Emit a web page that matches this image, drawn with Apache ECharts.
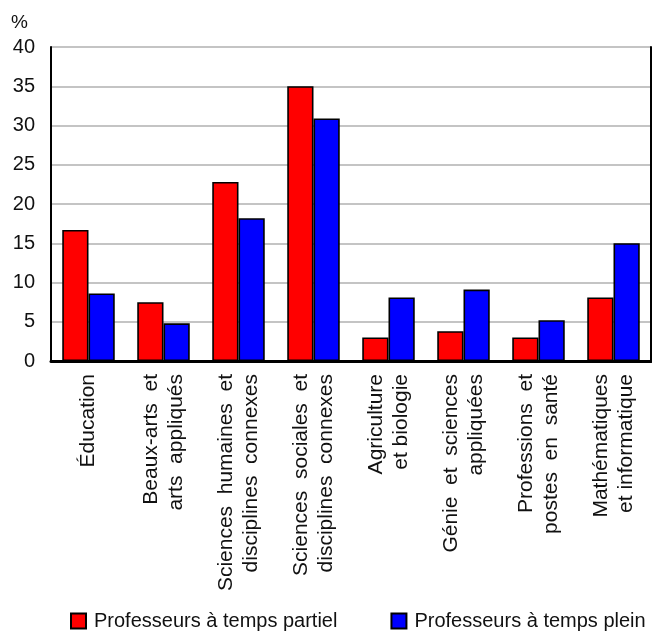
<!DOCTYPE html>
<html>
<head>
<meta charset="utf-8">
<script src="https://cdn.jsdelivr.net/npm/echarts@6/dist/echarts.min.js"></script>
<style>
  html, body { margin: 0; padding: 0; background: #fff; }
  #chart { width: 652px; height: 631px; }
</style>
</head>
<body>
<div id="chart"></div>
<script>
// Fields of study (two-line labels, wide word spacing)
var categories = [
  'Éducation',
  'Beaux-arts  et\narts  appliqués',
  'Sciences  humaines  et\ndisciplines  connexes',
  'Sciences  sociales  et\ndisciplines  connexes',
  'Agriculture\net biologie',
  'Génie  et  sciences\nappliquées',
  'Professions  et\npostes  en  santé',
  'Mathématiques\net informatique'
];

// Share of professors (%)
var partTime = [16.7, 7.5, 22.8, 35.0, 3.0, 3.8, 3.0, 8.1];
var fullTime = [8.6, 4.8, 18.2, 30.9, 8.1, 9.1, 5.2, 15.0];

var seriesNames = ['Professeurs à temps partiel', 'Professeurs à temps plein'];
var yTicks = { min: 0, max: 40, interval: 5 };

var FONT = "'Liberation Sans', Arial, Helvetica, sans-serif";
var TEXT = '#111';

var chart = echarts.init(document.getElementById('chart'), null, { renderer: 'canvas' });

chart.setOption({
  animation: false,
  backgroundColor: '#fff',
  textStyle: { fontFamily: FONT, color: TEXT },
  grid: { left: 51, right: 1, top: 47, bottom: 270, containLabel: false },
  legend: {
    top: 611,
    left: 70,
    width: 582,
    padding: 0,
    itemWidth: 15,
    itemHeight: 15,
    itemGap: 53,
    icon: 'rect',
    textStyle: { fontFamily: FONT, fontSize: 20, color: TEXT, padding: [0, 0, 0, 3] },
    data: seriesNames
  },
  xAxis: [
    {
      type: 'category',
      data: categories,
      position: 'bottom',
      axisLine: { show: true, lineStyle: { color: '#000', width: 3 } },
      axisTick: { show: false },
      axisLabel: {
        rotate: 90,
        interval: 0,
        margin: 13,
        fontFamily: FONT,
        fontSize: 21,
        lineHeight: 25,
        color: TEXT,
        align: 'right'
      },
      splitLine: { show: false }
    },
    {
      // top frame line
      type: 'category',
      data: categories,
      position: 'top',
      axisLine: { show: true, lineStyle: { color: '#000', width: 2 } },
      axisTick: { show: false },
      axisLabel: { show: false },
      splitLine: { show: false }
    }
  ],
  yAxis: [
    {
      type: 'value',
      min: yTicks.min,
      max: yTicks.max,
      interval: yTicks.interval,
      name: '%',
      nameLocation: 'end',
      nameGap: 15,
      nameTextStyle: { fontFamily: FONT, fontSize: 19, color: TEXT, align: 'right', padding: [0, 23, 0, 0] },
      axisLine: { show: true, onZero: false, lineStyle: { color: '#000', width: 2 } },
      axisTick: { show: false },
      axisLabel: { fontFamily: FONT, fontSize: 20, color: TEXT, margin: 16 },
      splitLine: { show: true, lineStyle: { color: '#c4c4c4', width: 2 } }
    },
    {
      // right frame line
      type: 'value',
      min: yTicks.min,
      max: yTicks.max,
      interval: yTicks.interval,
      position: 'right',
      axisLine: { show: true, onZero: false, lineStyle: { color: '#000', width: 2 } },
      axisTick: { show: false },
      axisLabel: { show: false },
      splitLine: { show: false }
    }
  ],
  series: [
    {
      name: seriesNames[0],
      type: 'bar',
      data: partTime,
      barGap: '0%',
      barCategoryGap: '30%',
      itemStyle: { color: '#ff0000', borderColor: '#000', borderWidth: 1.6 }
    },
    {
      name: seriesNames[1],
      type: 'bar',
      data: fullTime,
      barGap: '0%',
      barCategoryGap: '30%',
      itemStyle: { color: '#0000ff', borderColor: '#000', borderWidth: 1.6 }
    }
  ]
});
</script>
</body>
</html>
